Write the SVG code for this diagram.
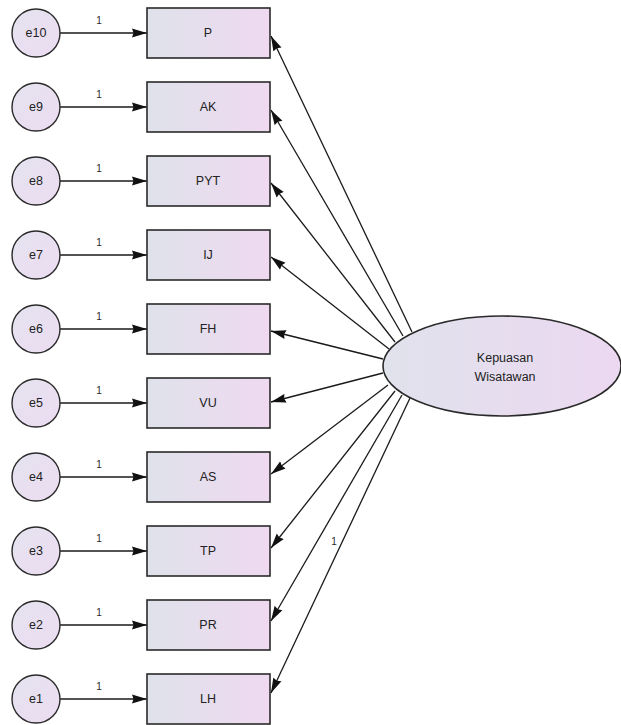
<svg xmlns="http://www.w3.org/2000/svg" width="621" height="725" viewBox="0 0 621 725">
  <defs>
    <linearGradient id="boxFill" x1="0" y1="0" x2="1" y2="0">
      <stop offset="0" stop-color="#dfe2ea"/>
      <stop offset="1" stop-color="#efd9f1"/>
    </linearGradient>
    <linearGradient id="errFill" x1="0" y1="0" x2="1" y2="1">
      <stop offset="0" stop-color="#e4e3ef"/>
      <stop offset="1" stop-color="#eddcf2"/>
    </linearGradient>
    <linearGradient id="latFill" x1="0" y1="0" x2="1" y2="0">
      <stop offset="0" stop-color="#e0e2ec"/>
      <stop offset="1" stop-color="#ecd8f1"/>
    </linearGradient>
    <marker id="head" markerUnits="userSpaceOnUse" markerWidth="16" markerHeight="10" refX="15" refY="5" orient="auto">
      <path d="M0,0.5 L15,5 L0,9.5 L1.5,5 Z" fill="#111"/>
    </marker>
    <style>
      .box { fill: url(#boxFill); stroke: #2a2a2a; stroke-width: 1.6; }
      .err { fill: url(#errFill); stroke: #2a2a2a; stroke-width: 1.4; }
      .lat { fill: url(#latFill); stroke: #2a2a2a; stroke-width: 1.6; }
      .lbl { font-family: "Liberation Sans", Arial, sans-serif; font-size: 12.5px; fill: #222; text-anchor: middle; }
      .one { font-family: "Liberation Sans", Arial, sans-serif; font-size: 10px; fill: #2a2a2a; text-anchor: middle; }
      .arr { stroke: #1a1a1a; stroke-width: 1.3; fill: none; marker-end: url(#head); }
    </style>
  </defs>
  <rect width="621" height="725" fill="#ffffff"/>

  <!-- paths: error terms to indicators, latent to indicators -->
  <g id="connectors">
    <line class="arr" x1="60" y1="33" x2="147" y2="33"/>
    <line class="arr" x1="60" y1="107" x2="147" y2="107"/>
    <line class="arr" x1="60" y1="181" x2="147" y2="181"/>
    <line class="arr" x1="60" y1="255" x2="147" y2="255"/>
    <line class="arr" x1="60" y1="329" x2="147" y2="329"/>
    <line class="arr" x1="60" y1="403" x2="147" y2="403"/>
    <line class="arr" x1="60" y1="477" x2="147" y2="477"/>
    <line class="arr" x1="60" y1="551" x2="147" y2="551"/>
    <line class="arr" x1="60" y1="625" x2="147" y2="625"/>
    <line class="arr" x1="60" y1="699" x2="147" y2="699"/>

    <line class="arr" x1="412" y1="332" x2="271" y2="36"/>
    <line class="arr" x1="403" y1="336" x2="271" y2="110"/>
    <line class="arr" x1="395" y1="342" x2="271" y2="183"/>
    <line class="arr" x1="389" y1="349" x2="271" y2="257"/>
    <line class="arr" x1="383" y1="359" x2="271" y2="331"/>
    <line class="arr" x1="383" y1="373" x2="271" y2="402"/>
    <line class="arr" x1="388" y1="385" x2="271" y2="474"/>
    <line class="arr" x1="395" y1="391" x2="271" y2="548"/>
    <line class="arr" x1="402" y1="395" x2="271" y2="621"/>
    <line class="arr" x1="410" y1="398" x2="271" y2="693"/>

    <text class="one" x="99" y="24">1</text>
    <text class="one" x="99" y="98">1</text>
    <text class="one" x="99" y="172">1</text>
    <text class="one" x="99" y="246">1</text>
    <text class="one" x="99" y="320">1</text>
    <text class="one" x="99" y="394">1</text>
    <text class="one" x="99" y="468">1</text>
    <text class="one" x="99" y="542">1</text>
    <text class="one" x="99" y="616">1</text>
    <text class="one" x="99" y="690">1</text>
    <text class="one" x="334" y="545">1</text>
  </g>

  <!-- latent variable -->
  <g id="kepuasan">
    <ellipse class="lat" cx="502" cy="366" rx="119" ry="50"/>
    <text class="lbl" x="505" y="362">Kepuasan</text>
    <text class="lbl" x="505" y="381">Wisatawan</text>
  </g>

  <!-- observed indicators -->
  <g id="P"><rect class="box" x="147" y="8" width="123" height="50"/><text class="lbl" x="208" y="37">P</text></g>
  <g id="AK"><rect class="box" x="147" y="82" width="123" height="50"/><text class="lbl" x="208" y="111">AK</text></g>
  <g id="PYT"><rect class="box" x="147" y="156" width="123" height="50"/><text class="lbl" x="208" y="185">PYT</text></g>
  <g id="IJ"><rect class="box" x="147" y="230" width="123" height="50"/><text class="lbl" x="208" y="259">IJ</text></g>
  <g id="FH"><rect class="box" x="147" y="304" width="123" height="50"/><text class="lbl" x="208" y="333">FH</text></g>
  <g id="VU"><rect class="box" x="147" y="378" width="123" height="50"/><text class="lbl" x="208" y="407">VU</text></g>
  <g id="AS"><rect class="box" x="147" y="452" width="123" height="50"/><text class="lbl" x="208" y="481">AS</text></g>
  <g id="TP"><rect class="box" x="147" y="526" width="123" height="50"/><text class="lbl" x="208" y="555">TP</text></g>
  <g id="PR"><rect class="box" x="147" y="600" width="123" height="50"/><text class="lbl" x="208" y="629">PR</text></g>
  <g id="LH"><rect class="box" x="147" y="674" width="123" height="50"/><text class="lbl" x="208" y="703">LH</text></g>

  <!-- error terms -->
  <g id="e10"><circle class="err" cx="36" cy="33" r="24"/><text class="lbl" x="36" y="37">e10</text></g>
  <g id="e9"><circle class="err" cx="36" cy="107" r="24"/><text class="lbl" x="36" y="111">e9</text></g>
  <g id="e8"><circle class="err" cx="36" cy="181" r="24"/><text class="lbl" x="36" y="185">e8</text></g>
  <g id="e7"><circle class="err" cx="36" cy="255" r="24"/><text class="lbl" x="36" y="259">e7</text></g>
  <g id="e6"><circle class="err" cx="36" cy="329" r="24"/><text class="lbl" x="36" y="333">e6</text></g>
  <g id="e5"><circle class="err" cx="36" cy="403" r="24"/><text class="lbl" x="36" y="407">e5</text></g>
  <g id="e4"><circle class="err" cx="36" cy="477" r="24"/><text class="lbl" x="36" y="481">e4</text></g>
  <g id="e3"><circle class="err" cx="36" cy="551" r="24"/><text class="lbl" x="36" y="555">e3</text></g>
  <g id="e2"><circle class="err" cx="36" cy="625" r="24"/><text class="lbl" x="36" y="629">e2</text></g>
  <g id="e1"><circle class="err" cx="36" cy="699" r="24"/><text class="lbl" x="36" y="703">e1</text></g>
</svg>
